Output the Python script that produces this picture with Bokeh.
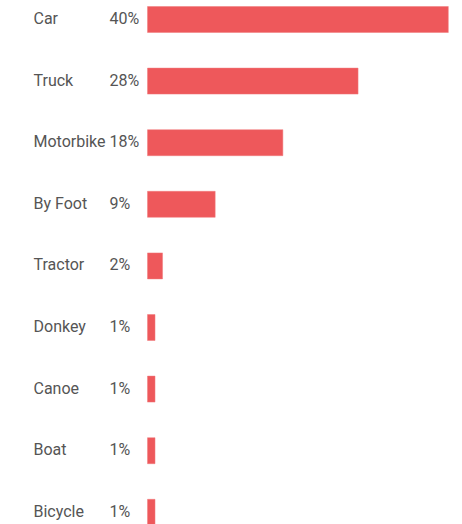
from bokeh.plotting import figure
from bokeh.models import Range1d, ColumnDataSource
from bokeh.core.properties import value
from bokeh.embed import file_html
from bokeh.resources import INLINE

categories = ["Car", "Truck", "Motorbike", "By Foot", "Tractor", "Donkey", "Canoe", "Boat", "Bicycle"]
shares = [40, 28, 18, 9, 2, 1, 1, 1, 1]
share_labels = ["40%", "28%", "18%", "9%", "2%", "1%", "1%", "1%", "1%"]

rows = list(range(len(categories)))
src = ColumnDataSource(dict(row=rows, cat=categories, share=shares, lab=share_labels))

W, H = 462, 524
px_per_unit = 7.52
origin_px = 147
row_px = 61.6
first_row_px = 19

p = figure(width=W, height=H, output_backend="svg", toolbar_location=None,
           x_range=Range1d(-origin_px / px_per_unit, (W - origin_px) / px_per_unit),
           y_range=Range1d((H - first_row_px) / row_px, -first_row_px / row_px),
           min_border=0)
p.axis.visible = False
p.grid.visible = False
p.outline_line_color = None

p.hbar(y="row", left=0, right="share", height=26 / row_px, source=src,
       fill_color="#EE585B", line_color="#F07A7C", line_width=0.5)

font = value("Roboto")
p.text(x=0, y="row", text="cat", source=src, x_offset=-114, y_offset=-1,
       text_font=font, text_font_size="16px", text_color="#555555",
       text_align="left", text_baseline="middle")
p.text(x=0, y="row", text="lab", source=src, x_offset=-38, y_offset=-1,
       text_font=font, text_font_size="16px", text_color="#555555",
       text_align="left", text_baseline="middle")

open("out.html", "w").write(file_html(p, INLINE))
